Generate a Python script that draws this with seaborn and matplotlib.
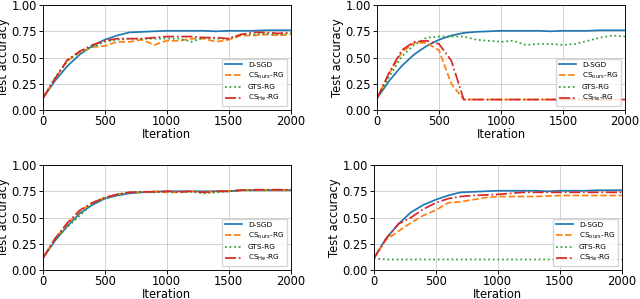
import matplotlib
matplotlib.use("Agg")
import matplotlib.pyplot as plt
import seaborn as sns

# %%
iters = list(range(0, 2001, 100))
labels = ["D-SGD", r"CS$_{\mathrm{ours}}$-RG", "GTS-RG", r"CS$_{\mathrm{He}}$-RG"]
colors = ["tab:blue", "tab:orange", "tab:green", "tab:red"]
styles = ["-", "--", ":", "-."]

# top left
p1_dsgd = [0.11, 0.28, 0.42, 0.53, 0.61, 0.67, 0.71, 0.74, 0.745, 0.75, 0.755,
           0.755, 0.755, 0.755, 0.75, 0.755, 0.755, 0.755, 0.76, 0.76, 0.76]
p1_ours = [0.11, 0.30, 0.47, 0.55, 0.60, 0.61, 0.65, 0.65, 0.67, 0.62, 0.66,
           0.66, 0.68, 0.68, 0.65, 0.67, 0.71, 0.71, 0.72, 0.71, 0.72]
p1_gts = [0.11, 0.31, 0.47, 0.56, 0.60, 0.65, 0.67, 0.68, 0.68, 0.68, 0.68,
          0.68, 0.65, 0.69, 0.68, 0.68, 0.72, 0.72, 0.73, 0.72, 0.73]
p1_he = [0.11, 0.30, 0.48, 0.56, 0.62, 0.66, 0.68, 0.68, 0.68, 0.69, 0.70,
         0.70, 0.70, 0.69, 0.69, 0.68, 0.72, 0.74, 0.74, 0.73, 0.74]

# top right
p2_dsgd = [0.11, 0.28, 0.42, 0.53, 0.61, 0.67, 0.71, 0.735, 0.745, 0.75, 0.755,
           0.755, 0.755, 0.755, 0.75, 0.755, 0.755, 0.755, 0.76, 0.76, 0.76]
p2_ours = [0.11, 0.35, 0.55, 0.64, 0.64, 0.57, 0.25, 0.10, 0.10, 0.10, 0.10,
           0.10, 0.10, 0.10, 0.10, 0.10, 0.10, 0.10, 0.10, 0.10, 0.10]
p2_gts = [0.11, 0.32, 0.51, 0.62, 0.69, 0.70, 0.70, 0.70, 0.67, 0.66, 0.65,
          0.66, 0.62, 0.63, 0.63, 0.62, 0.63, 0.66, 0.69, 0.71, 0.70]
p2_he = [0.11, 0.36, 0.57, 0.65, 0.66, 0.63, 0.47, 0.10, 0.10, 0.10, 0.10,
         0.10, 0.10, 0.10, 0.10, 0.10, 0.10, 0.10, 0.10, 0.10, 0.10]

# bottom left
p3_dsgd = [0.11, 0.28, 0.42, 0.54, 0.62, 0.68, 0.71, 0.73, 0.74, 0.745, 0.75,
           0.75, 0.75, 0.75, 0.75, 0.75, 0.76, 0.76, 0.76, 0.76, 0.76]
p3_ours = [0.11, 0.30, 0.44, 0.56, 0.64, 0.69, 0.72, 0.74, 0.74, 0.75, 0.74,
           0.74, 0.75, 0.74, 0.75, 0.75, 0.76, 0.76, 0.76, 0.76, 0.76]
p3_gts = [0.11, 0.29, 0.41, 0.52, 0.63, 0.68, 0.72, 0.74, 0.745, 0.74, 0.75,
          0.74, 0.745, 0.73, 0.74, 0.75, 0.76, 0.76, 0.76, 0.765, 0.76]
p3_he = [0.11, 0.30, 0.45, 0.57, 0.64, 0.69, 0.72, 0.74, 0.745, 0.745, 0.75,
         0.745, 0.75, 0.74, 0.75, 0.75, 0.76, 0.765, 0.765, 0.765, 0.765]

# bottom right
p4_dsgd = [0.11, 0.30, 0.44, 0.55, 0.62, 0.67, 0.71, 0.74, 0.745, 0.75, 0.755,
           0.755, 0.755, 0.755, 0.75, 0.755, 0.755, 0.755, 0.76, 0.76, 0.76]
p4_ours = [0.11, 0.29, 0.37, 0.45, 0.52, 0.57, 0.64, 0.65, 0.67, 0.69, 0.70,
           0.70, 0.70, 0.70, 0.705, 0.71, 0.71, 0.71, 0.71, 0.71, 0.71]
p4_gts = [0.11, 0.10, 0.10, 0.10, 0.10, 0.10, 0.10, 0.10, 0.10, 0.10, 0.10,
          0.10, 0.10, 0.10, 0.10, 0.10, 0.10, 0.10, 0.10, 0.10, 0.10]
p4_he = [0.11, 0.30, 0.44, 0.50, 0.58, 0.64, 0.68, 0.70, 0.71, 0.715, 0.72,
         0.73, 0.74, 0.74, 0.74, 0.74, 0.74, 0.74, 0.74, 0.74, 0.74]

panels = [
    [p1_dsgd, p1_ours, p1_gts, p1_he],
    [p2_dsgd, p2_ours, p2_gts, p2_he],
    [p3_dsgd, p3_ours, p3_gts, p3_he],
    [p4_dsgd, p4_ours, p4_gts, p4_he],
]

# %%
# the original looks like a default-style figure shrunk by ~0.83
s = 0.83
plt.rcParams.update({
    "font.size": 10 * s,
    "axes.linewidth": 0.8 * s,
    "xtick.major.size": 3.5 * s,
    "ytick.major.size": 3.5 * s,
    "xtick.major.width": 0.8 * s,
    "ytick.major.width": 0.8 * s,
    "xtick.major.pad": 1.0,
    "ytick.major.pad": 1.4,
})

fig = plt.figure(figsize=(6.4, 2.99), dpi=100)
boxes = [
    [0.0667, 0.632, 0.3875, 0.351],
    [0.589, 0.632, 0.3875, 0.351],
    [0.0667, 0.097, 0.3875, 0.351],
    [0.584, 0.097, 0.3875, 0.351],
]

for pos, series in zip(boxes, panels):
    ax = fig.add_axes(pos)
    for vals, lab, col, ls in zip(series, labels, colors, styles):
        sns.lineplot(x=iters, y=vals, ax=ax, color=col, linestyle=ls,
                     linewidth=1.5 * s, label=lab)
    ax.set_xlim(0, 2000)
    ax.set_ylim(0, 1)
    ax.set_xticks([0, 500, 1000, 1500, 2000])
    ax.set_yticks([0, 0.25, 0.5, 0.75, 1.0])
    ax.set_yticklabels(["0.00", "0.25", "0.50", "0.75", "1.00"])
    ax.grid(True, color="#b0b0b0", alpha=0.6, linewidth=0.8 * s)
    ax.set_xlabel("Iteration", labelpad=-0.5)
    ax.set_ylabel("Test accuracy", labelpad=1)
    ax.legend(loc="lower right", fontsize=6.4 * s, handlelength=2.3,
              labelspacing=0.4)

plt.savefig("out.png", dpi=100)
